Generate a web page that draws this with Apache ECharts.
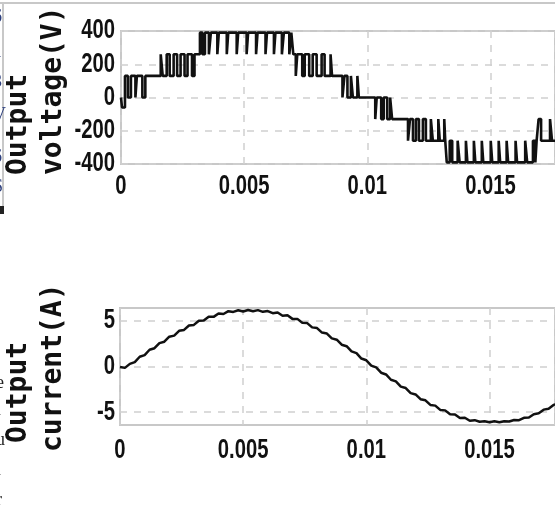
<!DOCTYPE html>
<html><head><meta charset="utf-8">
<script src="https://cdn.jsdelivr.net/npm/echarts@6/dist/echarts.min.js"></script>
<style>html,body{margin:0;padding:0;background:#fff;}#c{width:555px;height:518px;}</style>
</head><body><div id="c"></div>
<script>
// Output voltage: switching instants (ms) and the level (V) held from that instant on
const voltTimeMs = [0,0.040,0.161,0.282,0.403,0.585,0.645,0.867,0.988,
  1.613,1.693,1.855,1.976,2.137,2.278,2.419,2.580,2.701,2.883,2.984,
  3.205,3.306,3.407,3.568,3.649,3.911,3.972,4.294,4.355,4.697,4.758,5.100,5.161,5.484,5.544,5.867,5.927,6.209,6.270,6.532,6.612,6.834,6.915,
  6.996,7.096,7.157,7.358,7.459,7.641,7.782,7.943,8.145,8.266,8.508,8.568,
  8.991,9.072,9.193,9.334,9.415,9.596,9.657,
  10.322,10.382,10.564,10.665,10.806,10.927,11.007,
  11.652,11.733,11.854,11.975,12.096,12.257,12.378,12.580,12.660,12.882,12.943,13.124,13.164,
  13.225,13.346,13.447,13.668,13.749,14.003,14.063,14.326,14.386,14.648,14.709,15.011,15.072,15.334,15.394,15.656,15.717,16.019,16.080,16.410,16.491,16.725,16.822,
  16.874,16.954,17.055,17.418,17.499,17.700];
const voltLevel = [0,-60,130,0,130,0,130,0,130,
  260,130,260,130,260,130,260,130,260,130,260,
  390,260,390,260,390,260,390,260,390,260,390,260,390,260,390,260,390,260,390,260,390,260,390,
  260,130,260,130,260,130,260,130,260,130,260,130,
  0,130,0,130,0,130,0,
  -130,0,-130,0,-130,0,-130,
  -260,-130,-260,-130,-260,-130,-260,-130,-260,-130,-260,-130,-260,
  -390,-260,-390,-260,-390,-260,-390,-260,-390,-260,-390,-260,-390,-260,-390,-260,-390,-260,-390,-260,-390,-260,-390,
  -260,-130,-260,-130,-260,-260];

// Output current samples (ms, A)
const currTimeMs = [0,0.2,0.4,0.6,0.8,1.0,1.2,1.4,1.6,1.8,2.0,2.2,2.4,2.6,2.8,3.0,3.2,3.4,3.6,3.8,
  4.0,4.2,4.4,4.6,4.8,5.0,5.2,5.4,5.6,5.8,6.0,6.2,6.4,6.6,6.8,7.0,7.2,7.4,7.6,7.8,
  8.0,8.2,8.4,8.6,8.8,9.0,9.2,9.4,9.6,9.8,10.0,10.2,10.4,10.6,10.8,11.0,11.2,11.4,11.6,11.8,
  12.0,12.2,12.4,12.6,12.8,13.0,13.2,13.4,13.6,13.8,14.0,14.2,14.4,14.6,14.8,15.0,15.2,15.4,15.6,15.8,
  16.0,16.2,16.4,16.6,16.8,17.0,17.2,17.4,17.6,17.8];
const currValue = [-0.05,-0.15,0.29,0.48,1.07,1.25,1.83,2.00,2.56,2.71,3.26,3.38,3.90,4.00,4.48,4.55,5.00,5.03,5.44,5.43,
  5.80,5.74,6.05,5.97,6.15,6.02,6.18,6.05,6.17,5.98,6.06,5.83,5.91,5.56,5.60,5.21,5.21,4.79,4.75,4.28,
  4.20,3.71,3.60,3.08,2.93,2.38,2.22,1.65,1.46,0.87,0.68,0.09,-0.09,-0.68,-0.87,-1.45,-1.63,-2.20,-2.36,-2.91,
  -3.06,-3.58,-3.70,-4.20,-4.28,-4.75,-4.80,-5.23,-5.24,-5.63,-5.60,-5.94,-5.87,-6.05,-5.98,-6.10,-6.00,-6.10,-5.98,-6.02,
  -5.85,-5.88,-5.62,-5.58,-5.22,-5.12,-4.72,-4.62,-4.20,-4.05];

const xTickStep = 0.005;
const voltTicks = [-400,-200,0,200,400];
const currTicks = [-5,0,5];

const labelFont = '"Liberation Sans","Arial",sans-serif';
const titleFont = 'bold 28px "DejaVu Sans Mono","Liberation Mono",monospace';
const ink = '#111';
const frameCol = '#c8c8c8';
const gridDash = {type:[7,7], color:'#cfcfcf', width:1.5};

function xAxisFor(gi, max, margin){
  return {gridIndex:gi, type:'value', min:0, max:max, interval:xTickStep,
    axisLine:{show:false}, axisTick:{show:false},
    axisLabel:{color:ink, fontFamily:labelFont, fontWeight:'bold', fontSize:27, margin:margin, showMaxLabel:false,
      formatter:v=>String(v)},
    splitLine:{show:true, lineStyle:gridDash}};
}
function titleText(x, y, text){
  return {type:'text', x:x, y:y, rotation:Math.PI/2,
    style:{text:text, font:titleFont, fill:ink, textAlign:'left', textVerticalAlign:'middle', align:'left', verticalAlign:'middle'}};
}
function frag(x, y, text, color){
  return {type:'text', x:x, y:y, style:{text:text, font:'18px "Liberation Serif",serif', fill:color, align:'left', verticalAlign:'middle', textAlign:'left', textVerticalAlign:'middle'}};
}

const chart = echarts.init(document.getElementById('c'), null, {renderer:'canvas'});
chart.setOption({
  animation:false,
  backgroundColor:'#fff',
  grid:[
    {left:121, top:31, height:133, right:-3, show:true, borderColor:frameCol, borderWidth:2, containLabel:false},
    {left:120, top:308, height:117, right:-3, show:true, borderColor:frameCol, borderWidth:2, containLabel:false}
  ],
  xAxis:[xAxisFor(0, 0.01762, 9), xAxisFor(1, 0.01766, 12)],
  yAxis:[
    {gridIndex:0, type:'value', min:voltTicks[0], max:voltTicks[voltTicks.length-1], interval:200,
      axisLine:{show:false}, axisTick:{show:false},
      axisLabel:{color:ink, fontFamily:labelFont, fontWeight:'bold', fontSize:27, margin:6},
      splitLine:{show:true, lineStyle:gridDash}},
    {gridIndex:1, type:'value', min:-6.4, max:6.4,
      axisLine:{show:false}, axisTick:{show:false, customValues:currTicks},
      axisLabel:{color:ink, fontFamily:labelFont, fontWeight:'bold', fontSize:27, margin:5, customValues:currTicks},
      splitLine:{show:true, lineStyle:gridDash}}
  ],
  series:[
    {type:'line', xAxisIndex:0, yAxisIndex:0, step:'end', showSymbol:false, clip:true,
      lineStyle:{color:ink, width:2.6}, data:voltTimeMs.map((t,i)=>[t/1000, voltLevel[i]])},
    {type:'line', xAxisIndex:1, yAxisIndex:1, showSymbol:false, clip:true, smooth:false,
      lineStyle:{color:ink, width:2.5}, data:currTimeMs.map((t,i)=>[t/1000, currValue[i]])}
  ],
  graphic:[
    {type:'line', shape:{x1:0,y1:3,x2:555,y2:3}, style:{stroke:frameCol, lineWidth:2}},
    {type:'line', shape:{x1:3,y1:3,x2:3,y2:206}, style:{stroke:frameCol, lineWidth:2}},
    {type:'rect', shape:{x:0,y:206,width:4,height:8}, style:{fill:'#222'}},
    titleText(19, 175, 'Output'),
    titleText(54, 175, 'voltage(V)'),
    titleText(19, 443, 'Output'),
    titleText(54, 452, 'current(A)'),
    frag(-7, 17, '6', '#2b3d7c'), frag(-7, 52, '1', '#2b3d7c'), frag(-7, 82, '3', '#2b3d7c'),
    frag(-7, 115, 'V', '#2b3d7c'), frag(-7, 157, '6', '#2b3d7c'), frag(-7, 187, 'S', '#2b3d7c'),
    frag(-4, 383, 'e', '#222'), frag(-4, 410, 'l', '#222'), frag(-4, 440, 'u', '#222'),
    frag(-4, 470, 'l', '#222'), frag(-4, 500, 'r', '#222')
  ]
});

// condense tick labels horizontally (reference uses a tall, narrow face)
const tickStrings = new Set(['0','0.005','0.01','0.015','400','200','-200','-400','5','-5']);
const zr = chart.getZr();
zr.storage.getDisplayList(true).forEach(el => {
  if (el.style && el.style.text != null && tickStrings.has(String(el.style.text)) && el.style.fill !== '#2b3d7c') {
    el.scaleX = 0.75;
    el.markRedraw();
  }
});
zr.refreshImmediately();
</script></body></html>
